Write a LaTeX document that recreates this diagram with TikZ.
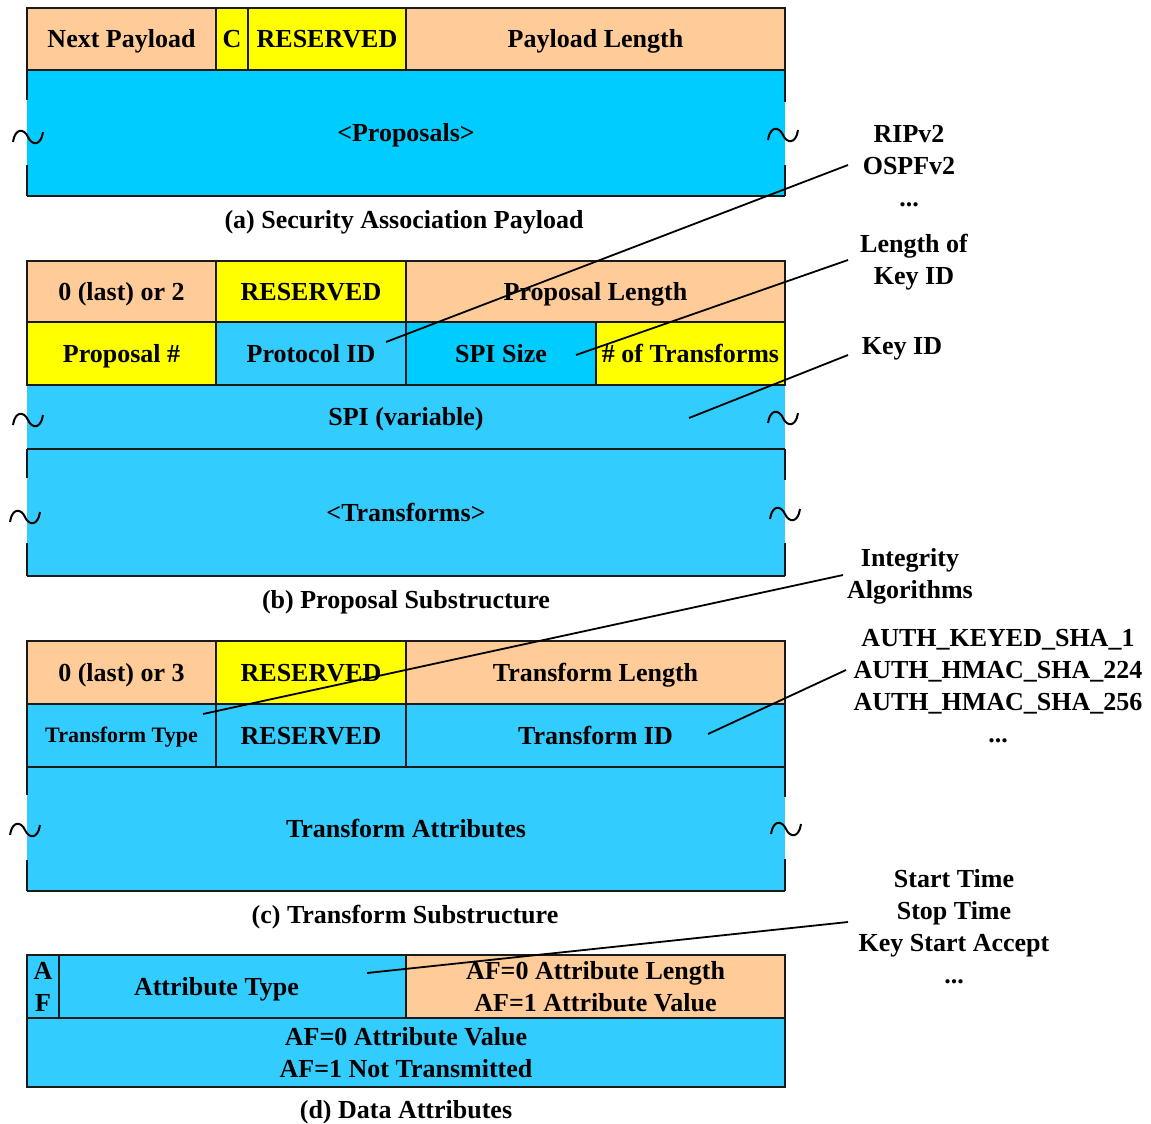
\documentclass[tikz,border=0pt]{standalone}
\usepackage{fontspec}
\setmainfont{Liberation Serif}
\definecolor{peach}{HTML}{FFCC99}
\definecolor{ylw}{HTML}{FFFF00}
\definecolor{cyanA}{HTML}{00CCFF}
\definecolor{cyanB}{HTML}{33CCFF}
\definecolor{edge}{HTML}{1A1A1A}
\newcommand\cellnode[7]{\node[#6, minimum width={(#4-#2)*0.5pt}, minimum height={(#5-#3)*0.5pt}] (#1) at ({(#2+#4)/2},{(#3+#5)/2}) {#7};}
\newcommand\wavemark[2]{\draw[wave] ({#1-15},{#2+5}) .. controls ({#1-13},{#2-9}) and ({#1-4},{#2-9}) .. (#1,#2) .. controls ({#1+4},{#2+9}) and ({#1+13},{#2+9}) .. ({#1+15},{#2-5});}
\begin{document}
\begin{tikzpicture}[x=0.5pt,y=-0.5pt,
  every node/.style={font=\bfseries\fontsize{13}{16}\selectfont, inner sep=0pt, outer sep=0pt},
  cellS/.style={rectangle, draw=edge, line width=1.1pt, text height=8.5pt, text depth=0pt},
  cellM/.style={rectangle, draw=edge, line width=1.1pt, align=center},
  bodyS/.style={rectangle, text height=8.5pt, text depth=0pt},
  smallfont/.style={font=\bfseries\fontsize{11}{13}\selectfont, text height=7.2pt},
  edgeline/.style={draw=edge, line width=1.1pt},
  wave/.style={draw=black, line width=1pt},
  leader/.style={draw=black, line width=0.9pt},
  lbl/.style={align=center, anchor=north},
  captext/.style={anchor=base}]
\useasboundingbox (0,0) rectangle (1151,1124);

% ---------- (a) ----------
\cellnode{props}{27}{70}{785}{196}{bodyS,fill=cyanA}{<Proposals>}
\draw[edgeline] (props.north west) -- (props.north east);
\draw[edgeline] (props.south west) -- (props.south east);
\draw[edgeline] (props.north west) -- ++(0,30);
\draw[edgeline] (props.south west) -- ++(0,-31);
\draw[edgeline] (props.north east) -- ++(0,32);
\draw[edgeline] (props.south east) -- ++(0,-31);
\cellnode{np}{27}{8}{216}{70}{cellS,fill=peach}{Next Payload}
\cellnode{cflag}{216}{8}{248}{70}{cellS,fill=ylw}{C}
\cellnode{resA}{248}{8}{406}{70}{cellS,fill=ylw}{RESERVED}
\cellnode{plen}{406}{8}{785}{70}{cellS,fill=peach}{Payload Length}
\wavemark{28}{137}
\wavemark{783}{135}
\node[captext] (capA) at (404,228) {(a) Security Association Payload};

% ---------- (b) ----------
\cellnode{spi}{27}{385}{785}{449}{bodyS,fill=cyanB}{SPI (variable)}
\cellnode{trs}{27}{449}{785}{576}{bodyS,fill=cyanB}{<Transforms>}
\draw[edgeline] (trs.north west) -- (trs.north east);
\draw[edgeline] (trs.south west) -- (trs.south east);
\draw[edgeline] (trs.north west) -- ++(0,29);
\draw[edgeline] (trs.south west) -- ++(0,-33);
\draw[edgeline] (trs.north east) -- ++(0,31);
\draw[edgeline] (trs.south east) -- ++(0,-33);
\cellnode{nxtB}{27}{261}{216}{322}{cellS,fill=peach}{0 (last) or 2}
\cellnode{resB}{216}{261}{406}{322}{cellS,fill=ylw}{RESERVED}
\cellnode{plB}{406}{261}{785}{322}{cellS,fill=peach}{Proposal Length}
\cellnode{pnum}{27}{322}{216}{385}{cellS,fill=ylw}{Proposal \#}
\cellnode{pid}{216}{322}{406}{385}{cellS,fill=cyanB}{Protocol ID}
\cellnode{spisz}{406}{322}{596}{385}{cellS,fill=cyanA}{SPI Size}
\cellnode{ntr}{596}{322}{785}{385}{cellS,fill=ylw}{\# of Transforms}
\wavemark{28}{420}
\wavemark{783}{418}
\wavemark{25}{517}
\wavemark{785}{514}
\node[captext] (capB) at (406,608) {(b) Proposal Substructure};

% ---------- (c) ----------
\cellnode{tattr}{27}{767}{785}{891}{bodyS,fill=cyanB}{Transform Attributes}
\draw[edgeline] (tattr.north west) -- (tattr.north east);
\draw[edgeline] (tattr.south west) -- (tattr.south east);
\draw[edgeline] (tattr.north west) -- ++(0,28);
\draw[edgeline] (tattr.south west) -- ++(0,-31);
\draw[edgeline] (tattr.north east) -- ++(0,30);
\draw[edgeline] (tattr.south east) -- ++(0,-32);
\cellnode{nxtC}{27}{641}{216}{704}{cellS,fill=peach}{0 (last) or 3}
\cellnode{resC}{216}{641}{406}{704}{cellS,fill=ylw}{RESERVED}
\cellnode{tlen}{406}{641}{785}{704}{cellS,fill=peach}{Transform Length}
\cellnode{ttype}{27}{704}{216}{767}{cellS,fill=cyanB,smallfont}{Transform Type}
\cellnode{resC2}{216}{704}{406}{767}{cellS,fill=cyanB}{RESERVED}
\cellnode{tid}{406}{704}{785}{767}{cellS,fill=cyanB}{Transform ID}
\wavemark{25}{830}
\wavemark{786}{829}
\node[captext] (capC) at (405,923) {(c) Transform Substructure};

% ---------- (d) ----------
\cellnode{aval}{27}{1018}{785}{1087}{cellM,fill=cyanB}{AF=0 Attribute Value\\AF=1 Not Transmitted}
\cellnode{af}{27}{955}{59}{1018}{cellM,fill=cyanB}{A\\F}
\cellnode{atype}{59}{955}{406}{1018}{cellS,fill=cyanB}{}
\node[bodyS] (atypetxt) at (216.5,986.5) {Attribute Type};
\cellnode{alen}{406}{955}{785}{1018}{cellM,fill=peach}{AF=0 Attribute Length\\AF=1 Attribute Value}
\node[captext] (capD) at (406,1118) {(d) Data Attributes};

% ---------- right-hand labels ----------
\node[lbl] (lRIP) at (909,125.5) {RIPv2\\OSPFv2\\...};
\node[lbl] (lLen) at (914,234) {Length of\\Key ID};
\node[lbl] (lKey) at (902,337.5) {Key ID};
\node[lbl] (lInt) at (910,548) {Integrity\\Algorithms};
\node[lbl] (lAuth) at (998,629.5) {AUTH\_KEYED\_SHA\_1\\AUTH\_HMAC\_SHA\_224\\AUTH\_HMAC\_SHA\_256\\...};
\node[lbl] (lTime) at (954,869.5) {Start Time\\Stop Time\\Key Start Accept\\...};

% ---------- leader lines ----------
\coordinate (ripS) at (848,165);   \coordinate (ripE) at (386,342);
\coordinate (lenS) at (848,260);   \coordinate (lenE) at (576,355);
\coordinate (keyS) at (848,355);   \coordinate (keyE) at (689,418);
\coordinate (intS) at (843,575);   \coordinate (intE) at (203,714);
\coordinate (authS) at (846,670);  \coordinate (authE) at (708,734);
\coordinate (timeS) at (848,922);  \coordinate (timeE) at (367,973);
\draw[leader] (ripS) -- (ripE);
\draw[leader] (lenS) -- (lenE);
\draw[leader] (keyS) -- (keyE);
\draw[leader] (intS) -- (intE);
\draw[leader] (authS) -- (authE);
\draw[leader] (timeS) -- (timeE);
\end{tikzpicture}
\end{document}
